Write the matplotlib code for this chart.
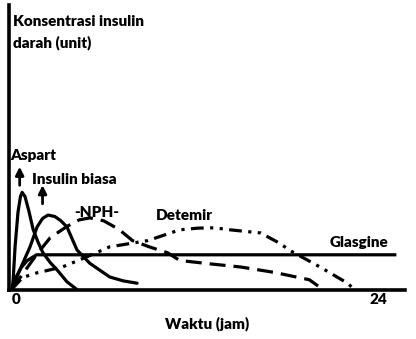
import numpy as np
import matplotlib
matplotlib.use('Agg')
import matplotlib.pyplot as plt
import matplotlib.transforms as mtransforms

# time (hours) and blood insulin concentration (arbitrary units)
aspart_t = [0, 0.07, 0.2, 0.39, 0.55, 0.66, 0.85, 1.1, 1.38, 1.7, 2.03, 2.5, 2.95, 3.6, 4.2]
aspart_c = [0, 3, 15, 27, 32.5, 34, 32.5, 27.5, 21, 16.5, 12.7, 9.3, 6.7, 2.5, 0]

biasa_t = [0, 0.3, 0.7, 1.18, 1.64, 2.0, 2.36, 2.8, 3.2, 3.6, 4.26, 5.1, 6.4, 7.3, 8.2]
biasa_c = [0, 4, 9, 14.8, 21.8, 24.8, 26, 25.5, 24, 21.8, 13.7, 9, 4.2, 2.8, 2]

nph_t = [0, 0.8, 1.6, 2.5, 3.6, 4.4, 5.1, 6.0, 7.0, 7.9, 9.0, 10.2, 11, 13, 15, 17.2, 19.5, 20.2]
nph_c = [0, 6, 12, 18, 22, 24.3, 25, 24, 21, 17, 14.8, 12.7, 10, 8.8, 7.7, 5.8, 3.2, 0.5]

detemir_t = [0, 0.7, 1.6, 3.3, 5.0, 6.4, 8.9, 11, 12.2, 13.3, 14.3, 16.3, 17.4, 18.4, 20.2, 22.0, 22.4]
detemir_c = [0, 4, 5.6, 7.7, 11.5, 14.8, 17, 20.8, 21.4, 21.5, 20.8, 19.7, 16.5, 13, 7.7, 2, 0]

glargine_t = [0, 0.3, 0.6, 1.0, 1.6, 25.1]
glargine_c = [0, 4.5, 7.5, 10, 12, 12]

xtick_pos = [0, 24]
xtick_lab = ['0', '24']

plt.rcParams['font.family'] = ['Lato', 'DejaVu Sans']
fs = 11
fw = 'heavy'

fig = plt.figure(figsize=(4.16, 3.39), dpi=100)
ax = fig.add_axes([9 / 416, 49 / 339, 396 / 416, 285 / 339])
lw = 2.3
ax.plot(aspart_t, aspart_c, color='black', lw=lw, solid_capstyle='round')
ax.plot(biasa_t, biasa_c, color='black', lw=lw, solid_capstyle='round')
ax.plot(nph_t, nph_c, color='black', lw=lw, ls=(0, (5, 2.5)))
ax.plot(detemir_t, detemir_c, color='black', lw=lw, ls=(0, (4, 2, 1, 2, 1, 2)))
ax.plot(glargine_t, glargine_c, color='black', lw=lw)

ax.set_xlim(-0.2, 25.77)
ax.set_ylim(-0.4, 100)
for s in ['top', 'right']:
    ax.spines[s].set_visible(False)
ax.spines['left'].set_linewidth(2.6)
ax.spines['bottom'].set_linewidth(2.6)
ax.set_xticks(xtick_pos)
ax.set_xticklabels(xtick_lab, fontsize=fs, fontweight=fw)
ax.tick_params(axis='x', length=0, pad=2)
ax.set_yticks([])
ax.set_xlabel('Waktu (jam)', fontsize=fs, fontweight=fw, labelpad=8)

# nudge the "0" a bit right, as in the sketch
lab0 = ax.get_xticklabels()[0]
lab0.set_transform(lab0.get_transform() +
                   mtransforms.ScaledTranslation(4 / 100, 0, fig.dpi_scale_trans))

# labels
ax.text(0.05, 96.5, 'Konsentrasi insulin\ndarah (unit)', fontsize=fs,
        fontweight=fw, va='top', ha='left', linespacing=1.6)
ax.text(-0.15, 47, 'Aspart', fontsize=fs, fontweight=fw, va='center')
ax.text(1.3, 38.5, 'Insulin biasa', fontsize=fs, fontweight=fw, va='center')
ax.text(4.1, 27, '-NPH-', fontsize=fs, fontweight=fw, va='center')
ax.text(9.4, 26, 'Detemir', fontsize=fs, fontweight=fw, va='center')
ax.text(20.8, 16.5, 'Glasgine', fontsize=fs, fontweight=fw, va='center')

arrow = dict(arrowstyle='-|>', color='black', lw=2.0, mutation_scale=12)
ax.annotate('', xy=(0.5, 44), xytext=(0.5, 35.5), arrowprops=arrow)
ax.annotate('', xy=(2.0, 37.5), xytext=(2.0, 29), arrowprops=arrow)

fig.savefig('out.png', dpi=100)
